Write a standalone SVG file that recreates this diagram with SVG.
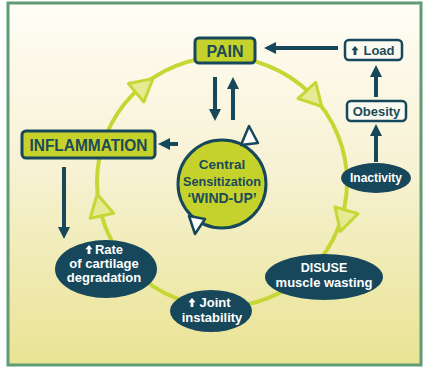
<svg xmlns="http://www.w3.org/2000/svg" xmlns:xlink="http://www.w3.org/1999/xlink" width="424" height="367" viewBox="0 0 424 367">
  <defs>
    <linearGradient id="bg" x1="0" y1="0" x2="0" y2="1">
      <stop offset="0" stop-color="#fffdf6"/>
      <stop offset="0.45" stop-color="#f7f2d4"/>
      <stop offset="1" stop-color="#e9e393"/>
    </linearGradient>
    <marker id="ah" markerUnits="userSpaceOnUse" markerWidth="12" markerHeight="12" viewBox="0 0 12 12" refX="3" refY="6" orient="auto">
      <path d="M0,0 L12,6 L0,12 Z" fill="#17475a"/>
    </marker>
    <polygon id="tri" points="-9,-12 13,0 -9,12"/>
    <path id="up" d="M0,-9 L3.6,-4.8 L1.4,-4.8 L1.4,0 L-1.4,0 L-1.4,-4.8 L-3.6,-4.8 Z"/>
  </defs>
  <style>
    .ring { fill: none; stroke: #c6d634; stroke-width: 4; }
    .rtri { fill: #e6ea92; stroke: #c6d634; stroke-width: 3; stroke-linejoin: round; }
    .arrow { stroke: #17475a; stroke-width: 4; fill: none; marker-end: url(#ah); }
    .ybox { fill: #c6d22c; stroke: #17475a; stroke-width: 3; }
    .wbox { fill: #fbfaf0; stroke: #17475a; stroke-width: 2.5; }
    .ell { fill: #17475a; }
    .t { font-family: "Liberation Sans", Arial, sans-serif; font-weight: bold; text-anchor: middle; }
    .dk { fill: #1b4a58; }
    .wt { fill: #ffffff; }
    .ctri { fill: #ffffff; stroke: #17475a; stroke-width: 2.5; stroke-linejoin: round; }
  </style>

  <rect x="0" y="0" width="424" height="367" fill="#ffffff"/>
  <rect x="8" y="3" width="413" height="362" fill="url(#bg)" stroke="#5f9b74" stroke-width="3"/>

  <g id="cycle">
    <circle class="ring" cx="222" cy="182" r="125"/>
    <use xlink:href="#tri" href="#tri" class="rtri" transform="translate(143,87) rotate(-40)"/>
    <use xlink:href="#tri" href="#tri" class="rtri" transform="translate(313,97) rotate(47)"/>
    <use xlink:href="#tri" href="#tri" class="rtri" transform="translate(344,219) rotate(106)"/>
    <use xlink:href="#tri" href="#tri" class="rtri" transform="translate(100,207) rotate(-102)"/>
  </g>

  <g id="connectors">
    <line class="arrow" x1="215" y1="77" x2="215" y2="112"/>
    <line class="arrow" x1="233" y1="120" x2="233" y2="86"/>
    <line class="arrow" x1="338" y1="48" x2="273" y2="48"/>
    <line class="arrow" x1="376" y1="97" x2="376" y2="74"/>
    <line class="arrow" x1="376" y1="162" x2="376" y2="133"/>
    <line class="arrow" x1="178" y1="144" x2="167" y2="144"/>
    <line class="arrow" x1="64" y1="167" x2="64" y2="230"/>
  </g>

  <g id="pain">
    <rect class="ybox" x="195" y="38" width="60" height="25" rx="4"/>
    <text class="t dk" x="225" y="57" font-size="16">PAIN</text>
  </g>

  <g id="load">
    <rect class="wbox" x="345" y="40" width="57" height="20" rx="4"/>
    <use xlink:href="#up" href="#up" fill="#17475a" transform="translate(355,55)"/>
    <text class="t dk" x="379" y="55" font-size="13">Load</text>
  </g>

  <g id="obesity">
    <rect class="wbox" x="347" y="101" width="59" height="20" rx="4"/>
    <text class="t dk" x="376.5" y="116" font-size="13">Obesity</text>
  </g>

  <g id="inactivity">
    <ellipse class="ell" cx="376" cy="178" rx="35" ry="15"/>
    <text class="t wt" x="376" y="182" font-size="12">Inactivity</text>
  </g>

  <g id="inflammation">
    <rect class="ybox" x="22" y="131" width="133" height="27" rx="4"/>
    <text class="t dk" x="88.5" y="150.5" font-size="16" textLength="118" lengthAdjust="spacingAndGlyphs">INFLAMMATION</text>
  </g>

  <g id="central">
    <circle cx="222" cy="184" r="44" fill="#c6d22c" stroke="#17475a" stroke-width="3"/>
    <polygon class="ctri" points="249,126 241,145 258,143"/>
    <polygon class="ctri" points="189,216 205,219 195,234"/>
    <text class="t dk" x="222" y="169" font-size="13.5">Central</text>
    <text class="t dk" x="222" y="186" font-size="13.5" textLength="78" lengthAdjust="spacingAndGlyphs">Sensitization</text>
    <text class="t dk" x="222" y="203" font-size="14">‘WIND-UP’</text>
  </g>

  <g id="rate">
    <ellipse class="ell" cx="106" cy="269" rx="51" ry="29"/>
    <use xlink:href="#up" href="#up" fill="#ffffff" transform="translate(89,254)"/>
    <text class="t wt" x="109" y="254" font-size="13">Rate</text>
    <text class="t wt" x="104" y="268" font-size="13">of cartilage</text>
    <text class="t wt" x="104" y="282" font-size="13">degradation</text>
  </g>

  <g id="joint">
    <ellipse class="ell" cx="211" cy="311" rx="41" ry="21"/>
    <use xlink:href="#up" href="#up" fill="#ffffff" transform="translate(192,307)"/>
    <text class="t wt" x="215" y="307" font-size="13">Joint</text>
    <text class="t wt" x="212" y="322" font-size="13">instability</text>
  </g>

  <g id="disuse">
    <ellipse class="ell" cx="324" cy="277" rx="59" ry="23"/>
    <text class="t wt" x="324" y="272" font-size="12.5">DISUSE</text>
    <text class="t wt" x="324" y="287" font-size="13">muscle wasting</text>
  </g>
</svg>
